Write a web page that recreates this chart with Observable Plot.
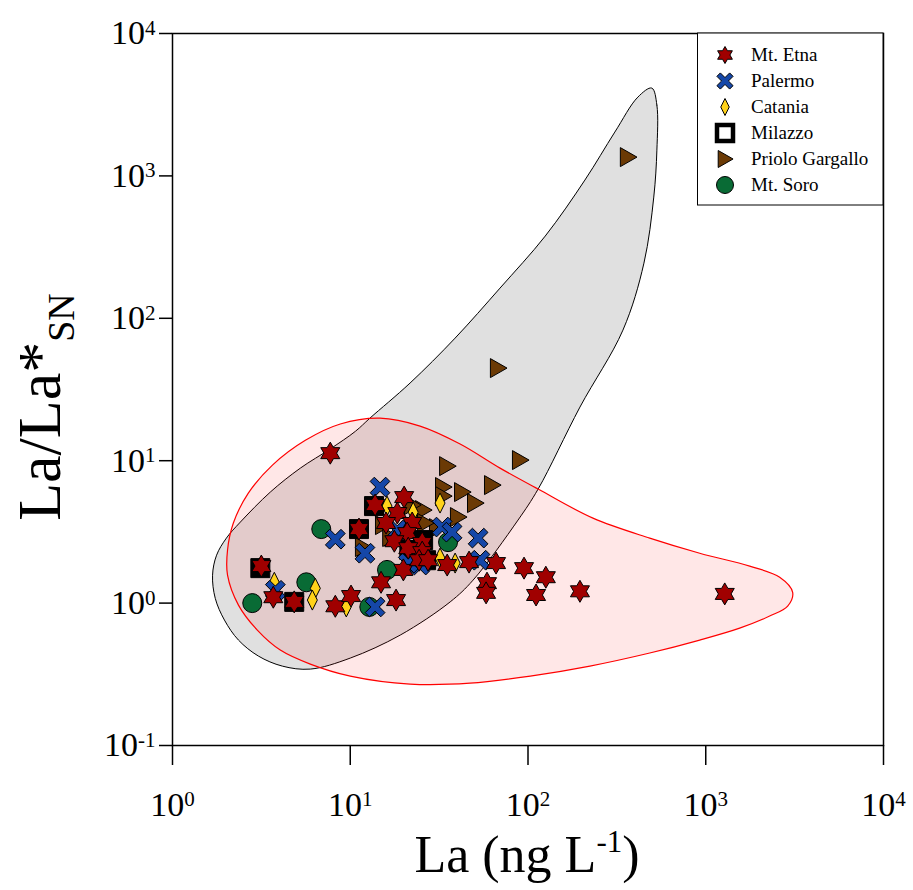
<!DOCTYPE html>
<html><head><meta charset="utf-8">
<script src="https://cdn.jsdelivr.net/npm/d3@7"></script>
<script src="https://cdn.jsdelivr.net/npm/@observablehq/plot@0.6"></script>
<style>
body{margin:0;background:#fff;}
#wrap{position:relative;width:913px;height:890px;}
</style></head><body><div id="wrap"></div>
<script>
// ---- data (La in ng/L, La/La*SN) ----
const seriesNames = ["Mt. Etna","Palermo","Catania","Milazzo","Priolo Gargallo","Mt. Soro"];

const etnaLa    = [7.72, 3.16, 3.69, 4.84, 8.24, 10.1, 14.9, 18.1, 19.9, 20.1, 13.8, 18.4, 15.9, 22.3, 20.9, 17.7, 25.4, 21.2, 25.4, 24.4, 27.4, 35.1, 46.6, 66.1, 95.0, 126, 58.8, 58.1, 111, 196, 1279, 11.2];
const etnaRatio = [11.3, 1.82, 1.10, 1.02, 0.95, 1.12, 1.40, 1.05, 1.71, 5.55, 4.88, 4.29, 3.65, 3.65, 3.10, 2.72, 2.64, 2.43, 2.28, 2.00, 2.00, 1.85, 1.94, 1.91, 1.76, 1.52, 1.38, 1.18, 1.14, 1.21, 1.16, 3.31];

const palLa    = [14.7, 8.24, 12.1, 13.8, 3.79, 32.9, 37.4, 52.4, 53.7, 24.7, 18.4, 21.2];
const palRatio = [6.53, 2.81, 2.24, 0.94, 1.23, 3.42, 3.15, 2.86, 2.00, 1.85, 3.26, 1.91];

const catLa    = [3.74, 6.36, 6.12, 9.50, 16.1, 22.6, 32.0, 32.0, 38.9];
const catRatio = [1.40, 1.27, 1.05, 0.94, 4.80, 4.35, 5.04, 2.07, 1.91];

const milLa    = [3.12, 4.84, 13.6, 11.2, 21.5, 25.7, 26.7];
const milRatio = [1.76, 1.02, 4.80, 3.31, 2.36, 2.77, 2.00];

const prioLa    = [365, 67.8, 90.2, 35.1, 62.8, 33.3, 42.6, 33.3, 50.4, 40.4, 25.7, 30.8, 22.3, 15.3, 11.8, 26.4, 16.8];
const prioRatio = [1355, 44.7, 10.1, 9.16, 6.74, 6.53, 6.02, 5.64, 5.04, 4.02, 4.50, 3.36, 4.88, 3.53, 2.47, 3.65, 2.91];

const soroLa    = [2.81, 5.66, 6.87, 16.1, 12.8, 35.5];
const soroRatio = [1.00, 1.40, 3.31, 1.71, 0.94, 2.68];

// envelopes (closed outlines)
const grayLa    = [497, 531, 531, 510, 449, 342, 196, 114, 87.9, 49.1, 36.5, 19.1, 10.0, 5.96, 4.15, 3.04, 2.35, 1.96, 1.74, 1.68, 1.77, 2.01, 2.41, 3.55, 5.24, 7.72, 10.7, 12.9, 21.7, 38.9, 69.6, 125, 209, 308, 415];
const grayRatio = [4137, 3141, 1517, 710, 244, 82.6, 23.8, 6.32, 3.83, 1.45, 1.02, 0.596, 0.411, 0.344, 0.361, 0.425, 0.550, 0.760, 1.08, 1.57, 2.17, 2.86, 3.71, 6.02, 8.87, 12.1, 16.1, 19.9, 35.1, 72.6, 163, 378, 935, 2032, 3576];

const redLa    = [14.7, 24.7, 41.5, 69.6, 114, 232, 484, 925, 1767, 2606, 3083, 2890, 2289, 1552, 925, 484, 223, 103, 47.2, 21.7, 10.0, 5.96, 4.04, 3.00, 2.35, 2.04, 2.04, 2.20, 2.67, 3.65, 5.59, 8.79];
const redRatio = [19.9, 17.5, 13.1, 8.87, 6.32, 3.95, 2.86, 2.24, 1.82, 1.52, 1.19, 0.953, 0.811, 0.667, 0.550, 0.446, 0.361, 0.307, 0.274, 0.270, 0.307, 0.373, 0.468, 0.646, 0.968, 1.57, 2.36, 3.65, 5.92, 9.31, 13.9, 18.1];

const xTicks = [1, 10, 100, 1000, 10000];
const xTickExp = ["0","1","2","3","4"];
const yTicks = [0.1, 1, 10, 100, 1000, 10000];
const yTickExp = ["-1","0","1","2","3","4"];

// ---- helpers ----
const zip = (a, b) => a.map((v, i) => ({x: v, y: b[i]}));

const hexagram = {draw(ctx, size) {
  const R = Math.sqrt(size / Math.PI), r = R / Math.sqrt(3);
  for (let i = 0; i < 12; i++) {
    const a = Math.PI / 6 * i - Math.PI / 2, rr = i % 2 ? r : R;
    const x = rr * Math.cos(a), y = rr * Math.sin(a);
    i ? ctx.lineTo(x, y) : ctx.moveTo(x, y);
  }
  ctx.closePath();
}};
const thickX = {draw(ctx, size) {
  const L = Math.sqrt(size / Math.PI), w = L * 0.27, c = Math.SQRT1_2;
  const p = [[-w,-L],[w,-L],[w,-w],[L,-w],[L,w],[w,w],[w,L],[-w,L],[-w,w],[-L,w],[-L,-w],[-w,-w]];
  p.forEach(([x, y], i) => { const X = (x - y) * c, Y = (x + y) * c; i ? ctx.lineTo(X, Y) : ctx.moveTo(X, Y); });
  ctx.closePath();
}};
const narrowDiamond = {draw(ctx, size) {
  const R = Math.sqrt(size / Math.PI);
  ctx.moveTo(0, -R); ctx.lineTo(R * 0.5, 0); ctx.lineTo(0, R); ctx.lineTo(-R * 0.5, 0); ctx.closePath();
}};
const squareSym = {draw(ctx, size) {
  const R = Math.sqrt(size / Math.PI);
  ctx.rect(-R, -R, 2 * R, 2 * R);
}};
const rightTri = {draw(ctx, size) {
  const R = Math.sqrt(size / Math.PI);
  ctx.moveTo(-0.8 * R, -R); ctx.lineTo(0.95 * R, 0); ctx.lineTo(-0.8 * R, R); ctx.closePath();
}};
const circleSym = {draw(ctx, size) {
  const R = Math.sqrt(size / Math.PI);
  ctx.moveTo(R, 0); ctx.arc(0, 0, R, 0, 2 * Math.PI);
}};

const styles = [
  {sym: hexagram, fill: "#a00000", r: 11, lr: 8.5},
  {sym: thickX, fill: "#1547a8", r: 11, lr: 9},
  {sym: narrowDiamond, fill: "#ffd21a", r: 10, lr: 8.5},
  {sym: squareSym, fill: "black", r: 9.5, lr: 8},
  {sym: rightTri, fill: "#6b3a05", r: 9.5, lr: 8.5},
  {sym: circleSym, fill: "#096b35", r: 9.5, lr: 8.5}
];

const dotMark = (la, ratio, st) => Plot.dot(zip(la, ratio), {
  x: "x", y: "y", symbol: st.sym, r: st.r, fill: st.fill, stroke: "black", strokeWidth: 1
});

const chart = Plot.plot({
  width: 913, height: 890,
  marginLeft: 172, marginRight: 30, marginTop: 33, marginBottom: 145,
  x: {type: "log", domain: [1, 1e4]},
  y: {type: "log", domain: [0.1, 1e4]},
  style: {fontFamily: "'Liberation Serif', 'Times New Roman', serif", background: "white", color: "black"},
  marks: [
    Plot.line(zip(grayLa, grayRatio), {x: "x", y: "y", curve: "catmull-rom-closed", fill: "#e0e0e0", stroke: "black", strokeWidth: 1}),
    Plot.line(zip(redLa, redRatio), {x: "x", y: "y", curve: "catmull-rom-closed", fill: "red", fillOpacity: 0.095, stroke: "red", strokeWidth: 1.2}),
    dotMark(soroLa, soroRatio, styles[5]),
    dotMark(prioLa, prioRatio, styles[4]),
    dotMark(milLa, milRatio, styles[3]),
    dotMark(catLa, catRatio, styles[2]),
    dotMark(palLa, palRatio, styles[1]),
    dotMark(etnaLa, etnaRatio, styles[0]),
    Plot.frame({stroke: "black", strokeWidth: 1.5}),
    Plot.axisX({ticks: xTicks, tickSize: 20, tickPadding: 26, strokeWidth: 1.5, fontSize: 34,
      tickFormat: (d) => xTickExp[xTicks.indexOf(d)], label: null}),
    Plot.axisY({ticks: yTicks, tickSize: 13, tickPadding: 4, strokeWidth: 1.5, fontSize: 34,
      tickFormat: (d) => yTickExp[yTicks.findIndex(t => Math.abs(Math.log10(t) - Math.log10(d)) < 1e-9)], label: null})
  ]
});

document.getElementById("wrap").appendChild(chart);
const svg = d3.select(chart);

// power-of-ten tick labels
svg.selectAll('g[aria-label="x-axis tick label"] text, g[aria-label="y-axis tick label"] text').each(function() {
  const exp = this.textContent;
  const t = d3.select(this);
  t.text(null);
  t.append("tspan").text("10");
  t.append("tspan").attr("font-size", 21).attr("dy", "-0.45em").text(exp);
});

// axis titles
const xt = svg.append("text").attr("x", 527).attr("y", 872).attr("text-anchor", "middle")
  .attr("font-size", 52).attr("fill", "black");
xt.append("tspan").text("La (ng L");
xt.append("tspan").attr("font-size", 31).attr("dy", -20).text("-1");
xt.append("tspan").attr("dy", 20).text(")");

const yt = svg.append("text").attr("transform", "translate(60,407) rotate(-90)").attr("text-anchor", "middle")
  .attr("font-size", 62).attr("fill", "black");
yt.append("tspan").text("La/La*");
yt.append("tspan").attr("font-size", 38).attr("dy", 14).text("SN");

// legend
const lg = svg.append("g");
lg.append("rect").attr("x", 697.5).attr("y", 33).attr("width", 185.5).attr("height", 172)
  .attr("fill", "white").attr("stroke", "black").attr("stroke-width", 1);
seriesNames.forEach((name, i) => {
  const cy = 55 + i * 26;
  const st = styles[i];
  const g = lg.append("g").attr("transform", `translate(725,${cy})`);
  if (i === 3) {
    g.append("rect").attr("x", -8).attr("y", -8).attr("width", 16).attr("height", 16)
      .attr("fill", "white").attr("stroke", "black").attr("stroke-width", 4.5);
  } else {
    g.append("path").attr("d", d3.symbol(st.sym, Math.PI * st.lr * st.lr)())
      .attr("fill", st.fill).attr("stroke", "black").attr("stroke-width", 1);
  }
  lg.append("text").attr("x", 751).attr("y", cy + 6).attr("font-size", 19).attr("fill", "black")
    .attr("text-anchor", "start").text(name);
});
</script>
</body></html>
